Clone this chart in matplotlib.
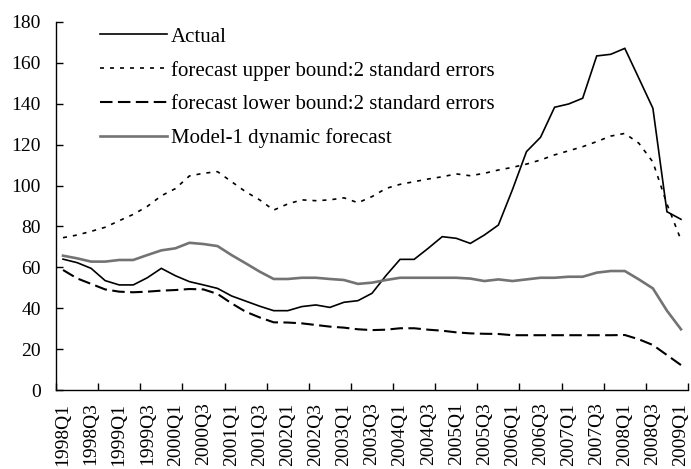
import numpy as np
import matplotlib
matplotlib.use("Agg")
import matplotlib.pyplot as plt
from matplotlib.ticker import FixedLocator, MultipleLocator

quarters = [
    "1998Q1", "1998Q2", "1998Q3", "1998Q4", "1999Q1", "1999Q2", "1999Q3", "1999Q4",
    "2000Q1", "2000Q2", "2000Q3", "2000Q4", "2001Q1", "2001Q2", "2001Q3", "2001Q4",
    "2002Q1", "2002Q2", "2002Q3", "2002Q4", "2003Q1", "2003Q2", "2003Q3", "2003Q4",
    "2004Q1", "2004Q2", "2004Q3", "2004Q4", "2005Q1", "2005Q2", "2005Q3", "2005Q4",
    "2006Q1", "2006Q2", "2006Q3", "2006Q4", "2007Q1", "2007Q2", "2007Q3", "2007Q4",
    "2008Q1", "2008Q2", "2008Q3", "2008Q4", "2009Q1",
]

actual = [64.0, 62.3, 59.5, 53.5, 51.4, 51.4, 54.9, 59.5, 55.9, 53.0,
          51.4, 49.7, 46.0, 43.5, 41.0, 38.8, 38.8, 40.8, 41.6, 40.4,
          42.9, 43.7, 47.3, 56.0, 63.9, 63.9, 69.3, 75.0, 74.2, 71.7,
          75.8, 80.7, 98.0, 116.6, 123.6, 138.3, 139.9, 142.7, 163.4, 164.2,
          167.1, 152.5, 137.8, 87.2, 83.5]

upper = [74.5, 75.8, 77.6, 79.6, 82.8, 85.9, 89.8, 95.0, 98.5, 104.7,
         106.0, 106.8, 101.9, 97.0, 93.0, 88.0, 91.0, 93.0, 92.6, 93.0,
         94.0, 91.6, 94.6, 98.6, 100.6, 101.9, 103.2, 104.3, 105.7, 104.8,
         106.0, 107.6, 108.9, 110.5, 112.5, 115.0, 117.0, 119.0, 121.5, 124.2,
         125.5, 120.7, 111.5, 91.0, 73.4]

lower = [58.7, 54.6, 51.9, 49.2, 48.1, 47.8, 48.1, 48.6, 48.9, 49.4,
         49.2, 47.0, 42.4, 38.3, 35.5, 33.1, 33.0, 32.6, 31.8, 31.0,
         30.5, 29.7, 29.3, 29.5, 30.2, 30.2, 29.5, 29.0, 28.2, 27.7,
         27.5, 27.4, 26.8, 26.8, 26.8, 26.8, 26.8, 26.8, 26.8, 26.8,
         26.9, 24.8, 22.0, 17.1, 12.2]

model = [65.7, 64.4, 62.8, 62.8, 63.6, 63.6, 66.0, 68.3, 69.3, 72.0,
         71.4, 70.4, 66.0, 62.0, 57.9, 54.3, 54.3, 54.9, 54.9, 54.3,
         53.8, 51.9, 52.5, 53.8, 54.9, 54.9, 54.9, 54.9, 54.9, 54.5,
         53.3, 54.1, 53.3, 54.1, 54.9, 54.9, 55.4, 55.4, 57.4, 58.2,
         58.2, 54.1, 49.7, 38.8, 29.7]

labels = ["Actual",
          "forecast upper bound:2 standard errors",
          "forecast lower bound:2 standard errors",
          "Model-1 dynamic forecast"]

plt.rcParams['font.family'] = ['Liberation Serif', 'DejaVu Serif']

fig = plt.figure(figsize=(6.91, 4.69), dpi=100)
ax = fig.add_axes([56/691, 79/469, (688-56)/691, (390-22)/469])

x = np.arange(len(quarters))

l1, = ax.plot(x, actual, color='black', lw=1.2, solid_joinstyle='miter')
l2, = ax.plot(x, upper, color='black', lw=1.2, dashes=(2.4, 3.6))
l3, = ax.plot(x, lower, color='black', lw=1.5, dashes=(6, 2.6))
l4, = ax.plot(x, model, color='#737373', lw=1.9)

ax.set_xlim(-0.5, len(quarters) - 0.5)
ax.set_ylim(0, 180)
ax.yaxis.set_major_locator(MultipleLocator(20))

ax.xaxis.set_major_locator(FixedLocator(x[::2]))
ax.set_xticklabels(quarters[::2], rotation=90, fontsize=14)
ax.xaxis.set_minor_locator(FixedLocator(np.arange(-0.5, len(quarters), 3)))
ax.tick_params(axis='x', which='major', length=0, pad=9)
ax.tick_params(axis='x', which='minor', length=5, direction='in', width=1)
ax.tick_params(axis='y', which='major', length=5, direction='in', width=1,
               labelsize=14, pad=11)

for s in ['top', 'right']:
    ax.spines[s].set_visible(False)
for s in ['left', 'bottom']:
    ax.spines[s].set_linewidth(1)

leg = ax.legend([l1, l2, l3, l4], labels, loc='upper left',
                bbox_to_anchor=(100/691, 1 - 27/469), bbox_transform=fig.transFigure,
                frameon=False, fontsize=15, handlelength=3.2, handletextpad=0.2,
                labelspacing=0.68, borderpad=0, borderaxespad=0)

fig.savefig("out.png", dpi=100)
